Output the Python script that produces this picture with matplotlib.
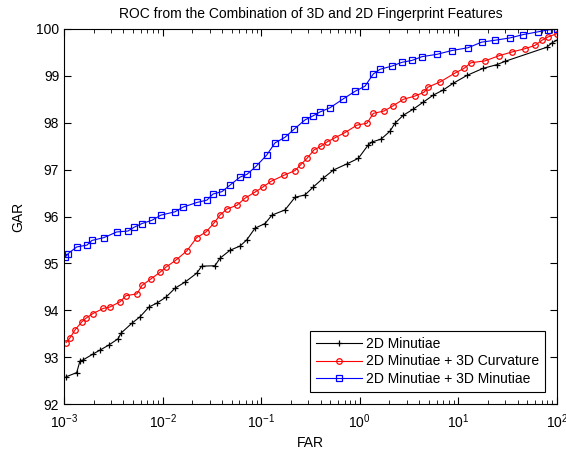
import matplotlib
matplotlib.use("Agg")
import matplotlib.pyplot as plt
from matplotlib.ticker import LogLocator

plt.rcParams['font.family'] = ['Liberation Sans', 'DejaVu Sans']
plt.rcParams['mathtext.fontset'] = 'custom'
plt.rcParams['mathtext.rm'] = 'Liberation Sans'

title = "ROC from the Combination of 3D and 2D Fingerprint Features"
xlabel = "FAR"
ylabel = "GAR"
labels = ["2D Minutiae", "2D Minutiae + 3D Curvature", "2D Minutiae + 3D Minutiae"]

far_2d = [1.05e-3, 1.345e-3, 1.453e-3, 1.559e-3, 1.983e-3, 2.318e-3, 2.86e-3, 3.53e-3, 3.78e-3,
          4.86e-3, 5.90e-3, 7.28e-3, 8.71e-3, 1.083e-2, 1.336e-2, 1.687e-2, 2.218e-2, 2.49e-2,
          3.40e-2, 3.82e-2, 4.83e-2, 6.10e-2, 7.13e-2, 8.65e-2, 0.1093, 0.1287, 0.1743, 0.2203,
          0.278, 0.3377, 0.4265, 0.5385, 0.736, 0.966, 1.211, 1.33, 1.641, 2.025, 2.275, 2.761,
          3.488, 4.406, 5.565, 7.03, 8.815, 12.22, 17.76, 24.63, 29.7, 78.6, 88.4, 99.3]
gar_2d = [92.58, 92.67, 92.92, 92.94, 93.07, 93.15, 93.26, 93.39, 93.51,
          93.72, 93.86, 94.07, 94.15, 94.28, 94.47, 94.60, 94.79, 94.94,
          94.95, 95.11, 95.28, 95.37, 95.50, 95.75, 95.85, 96.03, 96.14, 96.41,
          96.46, 96.63, 96.82, 96.99, 97.12, 97.24, 97.52, 97.59, 97.65, 97.82, 97.99, 98.16,
          98.29, 98.44, 98.59, 98.70, 98.84, 99.01, 99.16, 99.24, 99.31, 99.61, 99.70, 99.76]

far_curv = [1.05e-3, 1.15e-3, 1.293e-3, 1.512e-3, 1.671e-3, 1.968e-3, 2.505e-3, 2.93e-3, 3.70e-3,
            4.25e-3, 5.50e-3, 6.18e-3, 7.63e-3, 9.41e-3, 1.083e-2, 1.367e-2, 1.768e-2, 2.218e-2,
            2.755e-2, 3.32e-2, 3.82e-2, 4.50e-2, 5.68e-2, 6.85e-2, 8.65e-2, 0.1043, 0.1257, 0.1703,
            0.2203, 0.2504, 0.2914, 0.3432, 0.4043, 0.4648, 0.5605, 0.7077, 0.937, 1.183, 1.370,
            1.759, 2.171, 2.761, 3.629, 4.478, 4.918, 6.507, 9.237, 11.40, 13.42, 18.61, 25.81,
            34.96, 47.37, 59.83, 70.46, 81.04, 99.3]
gar_curv = [93.31, 93.41, 93.58, 93.75, 93.83, 93.93, 94.04, 94.07, 94.18,
            94.31, 94.35, 94.53, 94.67, 94.81, 94.92, 95.07, 95.27, 95.55,
            95.67, 95.86, 96.03, 96.16, 96.24, 96.39, 96.52, 96.63, 96.75, 96.88,
            96.98, 97.10, 97.24, 97.42, 97.50, 97.59, 97.68, 97.79, 97.95, 97.99, 98.20,
            98.25, 98.36, 98.50, 98.57, 98.65, 98.76, 98.87, 99.06, 99.16, 99.28, 99.32, 99.43,
            99.51, 99.58, 99.65, 99.76, 99.83, 99.90]

far_3dm = [1.023e-3, 1.105e-3, 1.345e-3, 1.711e-3, 1.923e-3, 2.545e-3, 3.42e-3, 4.46e-3, 5.13e-3,
           6.18e-3, 7.81e-3, 9.63e-3, 1.336e-2, 1.610e-2, 2.233e-2, 2.82e-2, 3.245e-2, 4.00e-2,
           4.83e-2, 6.10e-2, 7.18e-2, 8.86e-2, 0.1137, 0.138, 0.1743, 0.2151, 0.278, 0.3377,
           0.3948, 0.4985, 0.6804, 0.894, 1.129, 1.370, 1.603, 2.121, 2.679, 3.384, 4.273,
           6.067, 8.55, 12.51, 17.23, 23.50, 33.37, 45.2, 64.2, 81.04, 99.3]
gar_3dm = [95.13, 95.21, 95.35, 95.39, 95.49, 95.55, 95.67, 95.69, 95.77,
           95.85, 95.92, 96.03, 96.10, 96.20, 96.30, 96.35, 96.48, 96.53,
           96.67, 96.84, 96.90, 97.07, 97.31, 97.57, 97.69, 97.86, 98.06, 98.15,
           98.23, 98.32, 98.51, 98.67, 98.78, 99.04, 99.14, 99.21, 99.29, 99.33, 99.41,
           99.46, 99.54, 99.60, 99.72, 99.76, 99.81, 99.88, 99.94, 99.98, 100.0]

yticks = [92, 93, 94, 95, 96, 97, 98, 99, 100]

fig = plt.figure(figsize=(5.66, 4.5), dpi=100)
ax = fig.add_axes([64/566, 46/450, 493/566, 375/450])

ax.semilogx(far_2d, gar_2d, color='black', marker='+', markersize=5, linewidth=0.8,
            markeredgewidth=0.9, label=labels[0])
ax.semilogx(far_curv, gar_curv, color='red', marker='o', markersize=4, linewidth=0.8,
            markerfacecolor='none', markeredgewidth=0.9, label=labels[1])
ax.semilogx(far_3dm, gar_3dm, color='blue', marker='s', markersize=4, linewidth=0.8,
            markerfacecolor='none', markeredgewidth=0.9, label=labels[2])

ax.set_xlim(1e-3, 1e2)
ax.set_ylim(92, 100)
ax.set_yticks(yticks)
ax.xaxis.set_major_locator(LogLocator(base=10, numticks=10))
ax.xaxis.set_minor_locator(LogLocator(base=10, subs=range(2, 10), numticks=20))

ax.tick_params(which='both', direction='in', top=True, right=True, labelsize=10, colors='black')
ax.tick_params(which='major', length=5, width=0.8)
ax.tick_params(which='minor', length=3, width=0.6)
ax.tick_params(axis='x', which='major', pad=6)
for s in ax.spines.values():
    s.set_linewidth(0.8)

ax.set_title(title, fontsize=10, pad=8)
ax.set_xlabel(xlabel, fontsize=10, labelpad=4)
ax.set_ylabel(ylabel, fontsize=10, labelpad=8)

leg = ax.legend(loc='lower right', fontsize=10, handlelength=3.3, numpoints=1,
                fancybox=False, edgecolor='black', framealpha=1, borderaxespad=0.9,
                borderpad=0.4, labelspacing=0.25, handletextpad=0.3)
leg.get_frame().set_linewidth(0.8)

fig.savefig("out.png", dpi=100)
